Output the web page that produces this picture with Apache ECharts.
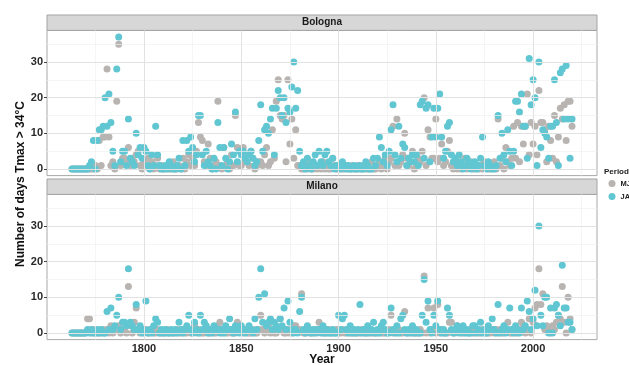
<!DOCTYPE html>
<html><head><meta charset="utf-8">
<script src="https://cdn.jsdelivr.net/npm/echarts@6/dist/echarts.min.js"></script>
<style>html,body{margin:0;padding:0;background:#fff}#c{width:629px;height:365px}</style>
</head><body><div id="c"></div>
<script>
const startYear = 1763;
const bolognaJA = [
0,0,0,0,0,0,0,
0,0,1,2,8,0,8,11,11,12,
20,12,21,13,5,1,28,37,2,5,
5,1,14,3,2,1,10,4,6,3,
6,5,1,0,4,1,12,4,1,0,
0,1,0,2,1,0,0,1,3,0,
8,1,8,5,9,6,2,4,15,15,
4,1,5,2,1,0,3,0,13,6,
1,6,3,0,2,7,4,16,2,5,
4,5,3,2,4,5,3,1,2,8,
18,5,11,12,10,14,17,4,17,22,
20,15,20,13,17,16,23,30,17,22,
5,1,2,0,3,1,0,2,4,1,
5,2,1,4,5,2,1,3,0,1,
1,0,2,1,0,1,0,0,1,0,
0,1,0,0,2,1,0,0,3,1,
3,9,6,2,4,1,5,11,18,4,
2,12,3,7,6,1,3,2,4,2,
4,1,18,19,3,17,18,2,9,17,
9,17,21,9,3,5,12,13,4,2,
3,1,4,2,0,1,3,2,0,1,
2,0,1,3,9,1,0,2,1,0,
0,1,15,3,10,4,2,11,5,1,
5,19,19,16,21,12,12,3,31,18,
25,20,1,30,6,11,10,9,3,12,
12,25,13,1,27,28,14,29,14,3,14];
const bolognaMJ = [
0,0,0,0,0,0,0,
0,0,0,0,0,1,0,8,1,9,
9,28,9,1,2,0,19,35,1,3,
3,2,6,1,3,2,4,5,1,0,
2,1,3,0,2,0,1,3,0,1,
0,0,1,0,0,2,0,0,1,0,
3,0,2,4,1,3,1,5,13,9,
8,2,1,7,3,0,1,2,19,1,
0,6,1,2,0,4,1,15,6,1,
1,6,2,4,1,5,3,0,1,2,
2,1,4,6,1,2,11,3,19,25,
15,14,15,2,25,7,14,3,11,1,
1,0,0,1,0,2,0,0,1,0,
1,0,2,0,1,0,0,3,1,0,
0,1,0,0,1,0,0,1,0,0,
1,0,0,1,0,0,0,2,0,0,
1,2,0,1,3,0,2,3,12,1,
14,1,2,4,10,3,1,2,5,0,
1,3,2,5,20,1,11,9,3,3,
14,2,3,7,1,2,5,8,1,0,
1,0,2,0,1,3,0,1,2,0,
0,1,0,1,0,2,1,0,0,1,
2,0,14,1,3,0,6,2,1,3,
12,3,13,2,12,7,12,21,4,13,
7,12,4,22,13,13,11,2,12,8,
3,15,2,9,17,14,18,8,19,19,12];
const milanoJA = [
0,0,0,0,0,0,0,
0,1,0,1,0,0,1,0,1,0,
0,6,1,7,1,2,5,10,1,3,
3,2,18,3,2,1,8,1,2,0,
1,9,0,1,0,2,4,3,0,1,
0,1,0,0,1,0,1,0,3,1,
0,1,2,5,1,0,3,1,0,5,
1,3,2,0,1,0,2,1,1,0,
1,0,2,1,4,1,0,2,1,0,
2,1,0,1,2,1,0,4,1,10,
18,3,11,2,3,4,1,3,2,1,
4,2,7,1,9,3,1,0,1,0,
6,10,1,0,2,1,0,1,0,1,
1,0,2,0,1,0,0,1,0,0,
5,1,4,5,1,0,2,0,1,0,
1,8,0,1,0,2,0,1,3,0,
1,0,2,3,1,0,0,7,1,0,
2,0,4,5,1,0,1,0,2,0,
1,0,0,5,15,3,9,1,0,5,
2,9,1,0,1,0,7,5,1,0,
1,2,0,1,2,0,1,0,0,2,
2,0,1,3,0,1,0,2,1,4,
1,0,8,0,1,2,0,1,7,1,
0,2,1,0,7,1,2,9,6,1,
4,12,2,30,5,2,10,10,0,7,
0,7,8,5,2,19,7,7,3,3,1];
const milanoMJ = [
0,0,0,0,0,0,0,
0,4,4,0,1,0,0,0,0,1,
0,1,0,2,0,1,1,2,0,1,
1,0,13,2,0,3,7,1,0,1,
0,1,0,0,1,0,0,1,0,0,
0,0,1,0,0,0,0,1,0,0,
1,0,0,1,0,0,2,0,1,0,
0,0,1,0,0,1,0,0,2,3,
0,1,0,0,1,0,0,0,3,1,
1,0,1,0,0,0,1,0,0,1,
5,1,0,1,2,0,1,0,0,1,
4,1,0,0,1,0,0,2,2,1,
1,11,0,0,1,0,0,0,1,0,
3,1,0,0,0,1,0,0,0,1,
0,0,1,0,0,1,0,0,0,0,
0,0,1,0,0,0,1,0,0,0,
0,1,0,0,0,0,1,5,0,1,
0,1,0,0,6,0,0,1,0,0,
0,0,1,0,16,0,7,0,1,7,
0,8,0,1,0,0,0,3,3,0,
0,2,1,0,0,1,0,0,1,0,
0,1,0,0,1,0,0,0,0,1,
0,1,0,1,0,0,1,3,0,0,
1,0,0,1,3,2,0,1,4,0,
3,7,8,18,8,11,1,2,1,0,
2,1,3,5,4,13,3,0,10,4,1];

const panels = ['Bologna', 'Milano'];
const periods = ['MJ', 'JA'];
const xMajor = [1800, 1850, 1900, 1950, 2000];
const xMinor = [1775, 1825, 1875, 1925, 1975, 2025];
const yMajor = [0, 10, 20, 30];
const yMinor = [5, 15, 25, 35];

const xRange = [1750.15, 2032.85];
const yRange = [-1.85, 38.85];
const colors = { MJ: '#b8b4b2', JA: '#60c6d2' };
const panelData = [
  { MJ: bolognaMJ, JA: bolognaJA },
  { MJ: milanoMJ, JA: milanoJA }
];

const L = 47, R = 597, H = 145.2;
const tops = [30.4, 194.4];
const stripH = 15.4;
const FONT = '"Liberation Sans", Arial, sans-serif';

function pts(arr) { return arr.map((v, i) => [startYear + i, v]); }

const grid = [], xAxis = [], yAxis = [], series = [], graphic = [];
panels.forEach((name, p) => {
  grid.push({ left: L, width: R - L, top: tops[p], height: H, show: true,
    backgroundColor: '#fff', borderColor: '#a9a9a9', borderWidth: 1 });
  xAxis.push({ type: 'value', gridIndex: p, min: xRange[0], max: xRange[1],
    axisLine: { show: false }, splitLine: { show: false },
    axisTick: { show: p === 1, customValues: xMajor, length: 3, lineStyle: { color: '#444' } },
    axisLabel: { show: p === 1, customValues: xMajor, fontSize: 11, fontWeight: 'bold',
      color: '#2a2a2a', fontFamily: FONT, margin: 4, formatter: v => String(Math.round(v)) } });
  yAxis.push({ type: 'value', gridIndex: p, min: yRange[0], max: yRange[1],
    axisLine: { show: false }, splitLine: { show: false },
    axisTick: { show: true, customValues: yMajor, length: 3, lineStyle: { color: '#444' } },
    axisLabel: { customValues: yMajor, fontSize: 11, fontWeight: 'bold',
      color: '#2a2a2a', fontFamily: FONT, margin: 4, formatter: v => String(Math.round(v)) } });
  const ml = [];
  xMinor.forEach(v => ml.push({ xAxis: v, lineStyle: { color: '#f1f1f1', width: 0.7, type: 'solid' } }));
  yMinor.forEach(v => ml.push({ yAxis: v, lineStyle: { color: '#f1f1f1', width: 0.7, type: 'solid' } }));
  xMajor.forEach(v => ml.push({ xAxis: v, lineStyle: { color: '#e2e2e2', width: 1, type: 'solid' } }));
  yMajor.forEach(v => ml.push({ yAxis: v, lineStyle: { color: '#e2e2e2', width: 1, type: 'solid' } }));
  series.push({ type: 'scatter', name: 'grid' + p, xAxisIndex: p, yAxisIndex: p, data: [], z: 1,
    markLine: { silent: true, symbol: ['none', 'none'], label: { show: false }, animation: false, data: ml } });
  periods.forEach((per, k) => {
    series.push({ type: 'scatter', name: per, xAxisIndex: p, yAxisIndex: p, z: 2 + k,
      symbol: 'circle', symbolSize: 7, itemStyle: { color: colors[per], opacity: 1 },
      data: pts(panelData[p][per]) });
  });
  graphic.push({ type: 'rect', shape: { x: L, y: tops[p] - stripH, width: R - L, height: stripH },
    style: { fill: '#d7d7d7', stroke: '#a3a3a3', lineWidth: 1 } });
  graphic.push({ type: 'text', x: (L + R) / 2, y: tops[p] - stripH / 2,
    style: { text: name, align: 'center', verticalAlign: 'middle', font: 'bold 10px ' + FONT, fill: '#1a1a1a' } });
});

graphic.push({ type: 'text', x: 21, y: 184, rotation: Math.PI / 2,
  style: { text: 'Number of days Tmax > 34°C', align: 'center', verticalAlign: 'middle',
    font: 'bold 12px ' + FONT, fill: '#111' } });
graphic.push({ type: 'text', x: 322, y: 360,
  style: { text: 'Year', align: 'center', verticalAlign: 'middle', font: 'bold 12px ' + FONT, fill: '#111' } });
graphic.push({ type: 'text', x: 604, y: 172,
  style: { text: 'Period', align: 'left', verticalAlign: 'middle', font: 'bold 8px ' + FONT, fill: '#222' } });

const chart = echarts.init(document.getElementById('c'), null, { renderer: 'canvas' });
chart.setOption({
  animation: false,
  backgroundColor: '#fff',
  grid, xAxis, yAxis, series, graphic,
  legend: { data: periods, orient: 'vertical', left: 608.5, top: 179.5, padding: 0, icon: 'circle',
    itemWidth: 7, itemHeight: 7, itemGap: 5, selectedMode: false,
    textStyle: { fontSize: 7.5, fontWeight: 'bold', color: '#222', fontFamily: FONT, overflow: 'none' } }
});
</script></body></html>
